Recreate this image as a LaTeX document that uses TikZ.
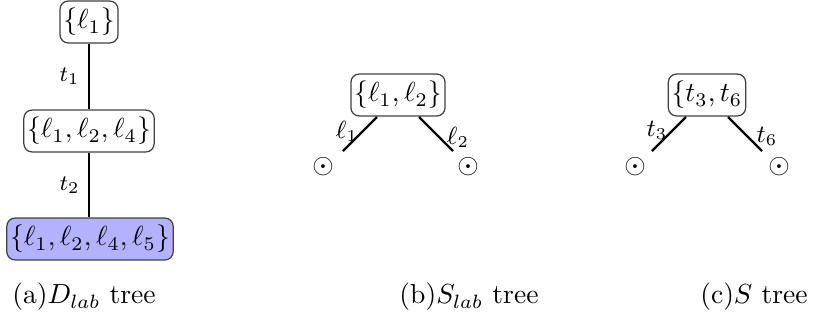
\documentclass[tikz,border=0pt]{standalone}
\usetikzlibrary{positioning}
\begin{document}
\begin{tikzpicture}[x=0.3626pt,y=-0.3626pt,
  setbox/.style={draw=black!75,rounded corners=3pt,inner xsep=1.2pt,inner ysep=2.6pt,line width=0.45pt},
  treeedge/.style={line width=0.8pt},
  elab/.style={font=\footnotesize,inner sep=1pt},
  blab/.style={font=\small,inner sep=1pt}]
\useasboundingbox (0,0) rectangle (819,321);
% (a)
\node[setbox] (a1) at (89,22) {$\{\ell_1\}$};
\node[setbox] (a2) at (89,131) {$\{\ell_1,\ell_2,\ell_4\}$};
\node[setbox,fill=blue!30] (a3) at (90,239) {$\{\ell_1,\ell_2,\ell_4,\ell_5\}$};
\draw[treeedge] (a1.south) -- node[elab,left=2pt] (t1) {$t_1$} (a2.north);
\draw[treeedge] (a2.south) -- node[elab,left=2pt] (t2) {$t_2$} (a3.north -| a2.south);
\node (ca) at (84,297) {(a)$D_{lab}$ tree};
% (b)
\node[setbox] (b1) at (398,95) {$\{\ell_1,\ell_2\}$};
\coordinate (bl) at (343,151);
\coordinate (br) at (453,151);
\draw[treeedge] (b1) ++(-21,22) coordinate (bls) -- (bl);
\draw[treeedge] (b1) ++(21,22) coordinate (brs) -- (br);
\node[blab] (bll) at (347,131) {$\ell_1$};
\node[blab] (brl) at (458,137) {$\ell_2$};
\node (bc1) at (323,167) {$\odot$};
\node (bc2) at (468,167) {$\odot$};
\node (cb) at (469,297) {(b)$S_{lab}$ tree};
% (c)
\node[setbox] (c1) at (707,95) {$\{t_3,t_6$};
\coordinate (cl) at (652,151);
\coordinate (cr) at (762,151);
\draw[treeedge] (c1) ++(-21,22) coordinate (cls) -- (cl);
\draw[treeedge] (c1) ++(21,22) coordinate (crs) -- (cr);
\node[blab] (cll) at (657,130) {$t_3$};
\node[blab] (crl) at (767,136) {$t_6$};
\node (cc1) at (635,167) {$\odot$};
\node (cc2) at (779,167) {$\odot$};
\node (cc) at (754,297) {(c)$S$ tree};
\end{tikzpicture}
\end{document}
